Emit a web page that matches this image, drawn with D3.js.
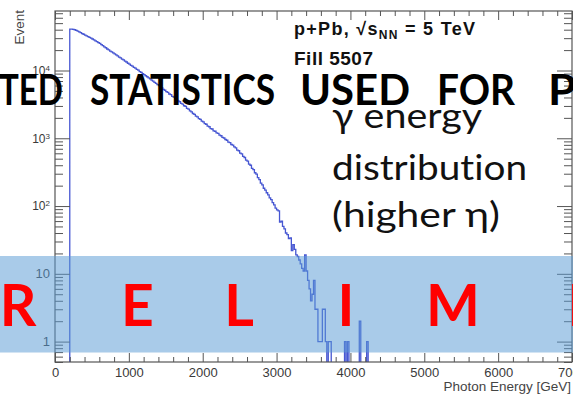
<!DOCTYPE html>
<html>
<head>
<meta charset="utf-8">
<script src="https://cdn.jsdelivr.net/npm/d3@7"></script>
<style>
html, body { margin: 0; padding: 0; background: #fff; }
svg { display: block; }
text { font-variant-ligatures: none; }
</style>
</head>
<body>
<svg width="573" height="396"></svg>
<script>
// photon energy histogram, 20 GeV bins starting at 200 GeV
var binStart = 200;
var binWidth = 20;
var counts = [
	40900, 40750, 40500, 39900, 39050, 38100, 37050, 36100, 35050, 34250,
	33350, 32450, 31650, 30750, 30050, 29150, 28350, 27400, 26650, 25750,
	25050, 24100, 23250, 22350, 21650, 20750, 20150, 19350, 18850, 18150,
	17650, 16950, 16450, 15750, 15350, 14750, 14350, 13750, 13350, 12800,
	12450, 11900, 11600, 11150, 10850, 10400, 10100, 9650, 9400, 8950,
	8720, 8360, 8090, 7760, 7520, 7200, 6990, 6680, 6470, 6180,
	5990, 5700, 5530, 5270, 5110, 4880, 4750, 4500, 4400, 4150,
	4060, 3850, 3740, 3560, 3460, 3280, 3200, 3020, 2950, 2760,
	2690, 2530, 2450, 2320, 2260, 2120, 2070, 1950, 1900, 1790,
	1750, 1640, 1610, 1510, 1480, 1390, 1370, 1290, 1270, 1200,
	1180, 1110, 1090, 1030, 1010, 960, 935, 880, 865, 810,
	795, 745, 720, 670, 655, 605, 590, 540, 520, 475,
	460, 415, 400, 360, 345, 310, 295, 262, 245, 218,
	205, 183, 172, 157, 146, 132, 124, 112, 104, 93,
	88, 85, 58, 60, 50, 46, 40, 38, 33, 34,
	22, 27, 23, 19, 18, 16, 14, 12, 11, 19,
	11, 8, 6, 4, 5, 8, 3, 3, 1, 1,
	1, 3, 3, 1, 0, 1, 1, 0, 0, 0,
	0, 0, 0, 0, 0, 0, 1, 0, 1, 0,
	0, 0, 0, 0, 0, 0, 2, 0, 0, 0,
	0, 1
];

var xMajor = [0, 1000, 2000, 3000, 4000, 5000, 6000, 7000];
var yMajor = [1, 10, 100, 1000, 10000];
var yLabels = [["1", ""], ["10", ""], ["10", "2"], ["10", "3"], ["10", "4"]];

var infoLines = ["γ energy", "distribution", "(higher η)"];
var bannerWords = ["LIMITED", "STATISTICS", "USED", "FOR", "PRELIMINARY"];
var stampLetters = "PRELIMINARY".split("");

var svg = d3.select("svg");
var margins = {top: 11, right: 1, bottom: 34, left: 55};
var width = +svg.attr("width") - margins.left - margins.right;
var height = +svg.attr("height") - margins.top - margins.bottom;

var g = svg.append("g")
	.attr("transform", "translate(" + margins.left + "," + margins.top + ")");

var x = d3.scaleLinear().domain([0, 7000]).range([0, width]);
var y = d3.scaleLog().domain([0.5, 75500]).range([height, 0]);

var axisColor = "#555";
var labelColor = "#3a3a3a";
var rootFont = "Liberation Sans, Arial, sans-serif";
var slideFont = "Lato, Open Sans, sans-serif";

g.append("clipPath").attr("id", "frame-clip")
	.append("rect").attr("width", width).attr("height", height);

// step outline of the histogram, empty bins fall below the frame
var pts = [[0, 0], [binStart, 0]];
counts.forEach(function(c, i){
	var lo = binStart + i * binWidth;
	pts.push([lo, c], [lo + binWidth, c]);
});
pts.push([binStart + counts.length * binWidth, 0], [7000, 0]);

var line = d3.line()
	.x(function(d){ return x(d[0]); })
	.y(function(d){ return d[1] > 0 ? y(d[1]) : height + 6; });

g.append("path")
	.datum(pts)
	.attr("clip-path", "url(#frame-clip)")
	.attr("fill", "none")
	.attr("stroke", "#4656d2")
	.attr("stroke-width", 1.3)
	.attr("d", line);

// minor tick positions
var xMinor = d3.range(0, 7001, 200).filter(function(v){ return v % 1000 != 0; });
var yMinor = [];
[0.1, 1, 10, 100, 1000, 10000].forEach(function(dec){
	for( var k = 2; k <= 9; k++ ){
		var v = k * dec;
		if( v >= 0.5 && v <= 75500 ) yMinor.push(v);
	}
});

function styleTicks(sel){
	sel.select(".domain").remove();
	sel.selectAll(".tick line").attr("stroke", axisColor);
}

// bottom axis with labels
g.append("g")
	.attr("transform", "translate(0," + height + ")")
	.call(d3.axisBottom(x).tickValues(xMajor).tickFormat(d3.format("d"))
		.tickSizeInner(-9).tickSizeOuter(0).tickPadding(6))
	.call(styleTicks)
	.selectAll("text")
		.attr("fill", labelColor)
		.attr("font-family", rootFont)
		.attr("font-size", 13);

g.append("g")
	.attr("transform", "translate(0," + height + ")")
	.call(d3.axisBottom(x).tickValues(xMinor).tickSize(-5).tickFormat(""))
	.call(styleTicks);

// top mirror
g.append("g")
	.call(d3.axisTop(x).tickValues(xMajor).tickSize(-9).tickFormat(""))
	.call(styleTicks);
g.append("g")
	.call(d3.axisTop(x).tickValues(xMinor).tickSize(-5).tickFormat(""))
	.call(styleTicks);

// left log axis
var yAxisG = g.append("g")
	.call(d3.axisLeft(y).tickValues(yMajor).tickSizeInner(-15).tickSizeOuter(0).tickPadding(5))
	.call(styleTicks);

yAxisG.selectAll(".tick text").each(function(d, i){
	var t = d3.select(this);
	var lab = yLabels[i];
	t.text(null)
		.attr("fill", labelColor)
		.attr("font-family", rootFont)
		.attr("font-size", lab[1] ? 12 : 13);
	t.append("tspan").text(lab[0]);
	if( lab[1] ){
		t.append("tspan").attr("dy", "-0.5em").attr("font-size", 8).text(lab[1]);
	}
});

g.append("g")
	.call(d3.axisLeft(y).tickValues(yMinor).tickSize(-8).tickFormat(""))
	.call(styleTicks);

// right mirror
g.append("g")
	.attr("transform", "translate(" + width + ",0)")
	.call(d3.axisRight(y).tickValues(yMajor).tickSize(-15).tickFormat(""))
	.call(styleTicks);
g.append("g")
	.attr("transform", "translate(" + width + ",0)")
	.call(d3.axisRight(y).tickValues(yMinor).tickSize(-8).tickFormat(""))
	.call(styleTicks);

// frame
g.append("rect")
	.attr("width", width)
	.attr("height", height)
	.attr("fill", "none")
	.attr("stroke", axisColor)
	.attr("stroke-width", 1.2);

// axis titles
svg.append("text")
	.attr("transform", "translate(24,10) rotate(-90)")
	.attr("text-anchor", "end")
	.attr("font-family", rootFont)
	.attr("font-size", 13.5)
	.attr("fill", "#444")
	.text("Event");

svg.append("text")
	.attr("x", 571)
	.attr("y", 391)
	.attr("text-anchor", "end")
	.attr("font-family", rootFont)
	.attr("font-size", 13.5)
	.attr("fill", "#444")
	.text("Photon Energy [GeV]");

// collision label
var lab1 = g.append("text")
	.attr("x", 239)
	.attr("y", 24)
	.attr("textLength", 181)
	.attr("font-family", rootFont)
	.attr("font-weight", "bold")
	.attr("font-size", 18)
	.attr("fill", "#111");
lab1.append("tspan").text("p+Pb,  √s");
lab1.append("tspan").attr("dy", 4).attr("font-size", 12).text("NN");
lab1.append("tspan").attr("dy", -4).text(" = 5 TeV");

g.append("text")
	.attr("x", 239)
	.attr("y", 54)
	.attr("textLength", 79)
	.attr("font-family", rootFont)
	.attr("font-weight", "bold")
	.attr("font-size", 19)
	.attr("fill", "#111")
	.text("Fill 5507");

// slide overlays: banner, band, stamp, caption
var bannerX = [-69, 90, 300, 437, 548];
var bannerW = [132, 185, 110, 78, 300];
svg.append("g").selectAll("text")
	.data(bannerWords)
	.enter().append("text")
		.attr("x", function(d, i){ return bannerX[i]; })
		.attr("y", 105)
		.attr("textLength", function(d, i){ return bannerW[i]; })
		.attr("lengthAdjust", "spacingAndGlyphs")
		.attr("font-family", slideFont)
		.attr("font-weight", "bold")
		.attr("font-size", 42)
		.attr("fill", "#000")
		.text(function(d){ return d; });

svg.append("rect")
	.attr("x", 0)
	.attr("y", 256)
	.attr("width", 573)
	.attr("height", 96.5)
	.attr("fill", "rgb(91,155,213)")
	.attr("fill-opacity", 0.52);

var stampX = [-100, 18, 137.5, 239, 346, 453, 576, 690, 800, 910, 1020];
var stamp = svg.append("text")
	.attr("y", 326)
	.attr("text-anchor", "middle")
	.attr("font-family", slideFont)
	.attr("font-weight", "bold")
	.attr("font-size", 57)
	.attr("fill", "#ff0000");
stampLetters.forEach(function(ch, i){
	stamp.append("tspan").attr("x", stampX[i]).text(ch);
});

var info = svg.append("g");
var infoY = [128, 180, 227];
var infoW = [150, 195, 168];
infoLines.forEach(function(s, i){
	info.append("text")
		.attr("x", 332)
		.attr("y", infoY[i])
		.attr("textLength", infoW[i])
		.attr("lengthAdjust", "spacingAndGlyphs")
		.attr("font-family", slideFont)
		.attr("font-size", 35)
		.attr("fill", "#111")
		.text(s);
});
</script>
</body>
</html>
